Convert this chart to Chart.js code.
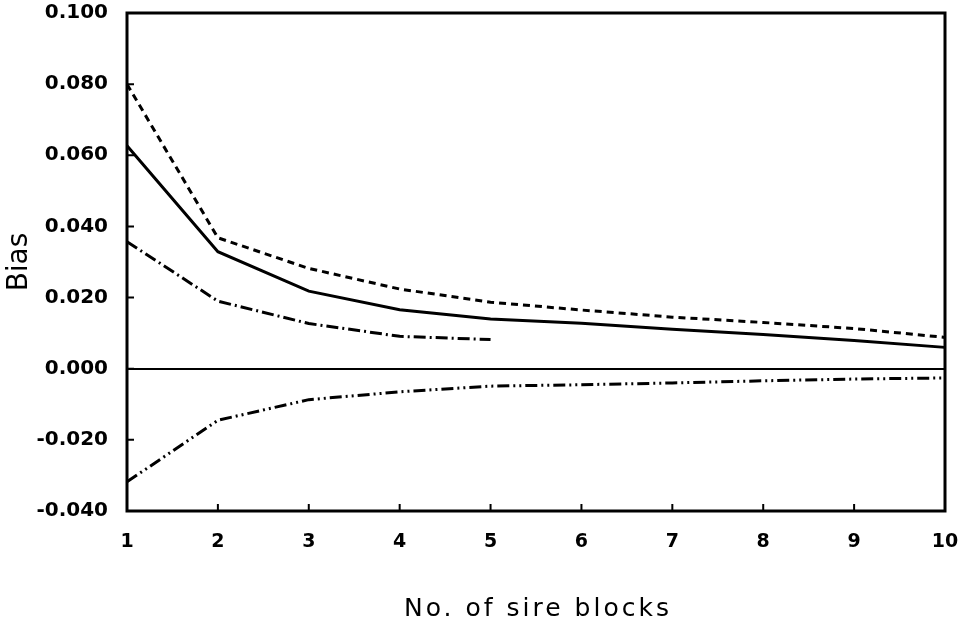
<!DOCTYPE html>
<html>
<head>
<meta charset="utf-8">
<script src="https://cdn.jsdelivr.net/npm/chart.js@4.4.1/dist/chart.umd.min.js"></script>
<style>
    html, body { margin: 0; padding: 0; background: #fff; }
    #wrap { width: 959px; height: 624px; position: relative; }
</style>
</head>
<body>
<div id="wrap"><canvas id="biasChart"></canvas></div>
<script>
// x categories: number of sire blocks
const sireBlocks = ['1', '2', '3', '4', '5', '6', '7', '8', '9', '10'];

// series values
const dashedSeries = [0.0800, 0.0368, 0.0282, 0.0224, 0.0187, 0.0165, 0.0145, 0.0130, 0.0113, 0.0088];
const solidSeries = [0.0627, 0.0329, 0.0218, 0.0166, 0.0140, 0.0128, 0.0111, 0.0096, 0.0079, 0.0060];
const dashDotSeries = [0.0357, 0.0190, 0.0127, 0.0091, 0.0082];
const dashDotDotSeries = [-0.0318, -0.0145, -0.0087, -0.0065, -0.0049, -0.0045, -0.0040, -0.0034, -0.0029, -0.0026];

// y tick range
const yMin = -0.04;
const yMax = 0.10;
const yStep = 0.02;

const xTitle = 'No. of sire blocks';

// inner tick marks, frame and letter-spaced x title
const framePlugin = {
    id: 'frame',
    afterDatasetsDraw(chart) {
        const { ctx, chartArea: a, scales: { x, y } } = chart;
        ctx.save();
        ctx.strokeStyle = '#000';
        ctx.lineWidth = 2;
        ctx.beginPath();
        y.ticks.forEach(t => {
            const py = y.getPixelForValue(t.value);
            ctx.moveTo(a.left, py);
            ctx.lineTo(a.left + 7, py);
        });
        x.ticks.forEach((t, i) => {
            const px = x.getPixelForTick(i);
            ctx.moveTo(px, a.bottom);
            ctx.lineTo(px, a.bottom - 7);
        });
        ctx.stroke();
        ctx.lineWidth = 3;
        ctx.strokeRect(a.left, a.top, a.right - a.left, a.bottom - a.top);
        ctx.restore();
    },
    afterDraw(chart) {
        const { ctx, chartArea: a } = chart;
        ctx.save();
        ctx.fillStyle = '#000';
        ctx.font = '25px "DejaVu Sans"';
        ctx.letterSpacing = '3px';
        ctx.textAlign = 'center';
        ctx.textBaseline = 'alphabetic';
        ctx.fillText(xTitle, (a.left + a.right) / 2 + 2, 616);
        ctx.restore();
    }
};

const ctx = document.getElementById('biasChart').getContext('2d');

const chart = new Chart(ctx, {
    type: 'line',
    data: {
        labels: sireBlocks,
        datasets: [
            {
                label: 'dashed',
                data: dashedSeries,
                borderColor: '#000',
                borderWidth: 3,
                borderDash: [7, 5],
                pointRadius: 0,
                tension: 0
            },
            {
                label: 'solid',
                data: solidSeries,
                borderColor: '#000',
                borderWidth: 3,
                pointRadius: 0,
                tension: 0
            },
            {
                label: 'dash-dot',
                data: dashDotSeries,
                borderColor: '#000',
                borderWidth: 3,
                borderDash: [12, 4, 2, 4],
                pointRadius: 0,
                tension: 0
            },
            {
                label: 'dash-dot-dot',
                data: dashDotDotSeries,
                borderColor: '#000',
                borderWidth: 3,
                borderDash: [12, 4, 2, 4, 2, 4],
                pointRadius: 0,
                tension: 0
            }
        ]
    },
    options: {
        responsive: true,
        maintainAspectRatio: false,
        animation: false,
        layout: { padding: { left: 0, top: 13, right: 14, bottom: 0 } },
        plugins: {
            legend: { display: false },
            tooltip: { enabled: false }
        },
        scales: {
            x: {
                offset: false,
                grid: { display: false, drawTicks: false },
                border: { display: false },
                ticks: {
                    color: '#000',
                    padding: 20,
                    maxRotation: 0,
                    autoSkip: false,
                    font: { family: '"DejaVu Sans"', size: 19, weight: 'bold' }
                },
                afterFit(scale) {
                    scale.height = 624 - 511;
                    scale.paddingLeft = 0;
                    scale.paddingRight = 0;
                }
            },
            y: {
                min: yMin,
                max: yMax,
                grid: {
                    drawTicks: false,
                    color: c => (c.tick && c.tick.value === 0 ? '#000' : 'rgba(0,0,0,0)'),
                    lineWidth: 2
                },
                border: { display: false },
                ticks: {
                    stepSize: yStep,
                    color: '#000',
                    padding: 19,
                    font: { family: '"DejaVu Sans"', size: 20, weight: 'bold' },
                    callback: v => v.toFixed(3)
                },
                title: {
                    display: true,
                    text: 'Bias',
                    color: '#000',
                    padding: { top: 3, bottom: 0 },
                    font: { family: '"DejaVu Sans"', size: 28 }
                },
                afterFit(scale) {
                    scale.width = 127;
                    scale.paddingTop = 0;
                    scale.paddingBottom = 0;
                }
            }
        }
    },
    plugins: [framePlugin]
});
</script>
</body>
</html>
